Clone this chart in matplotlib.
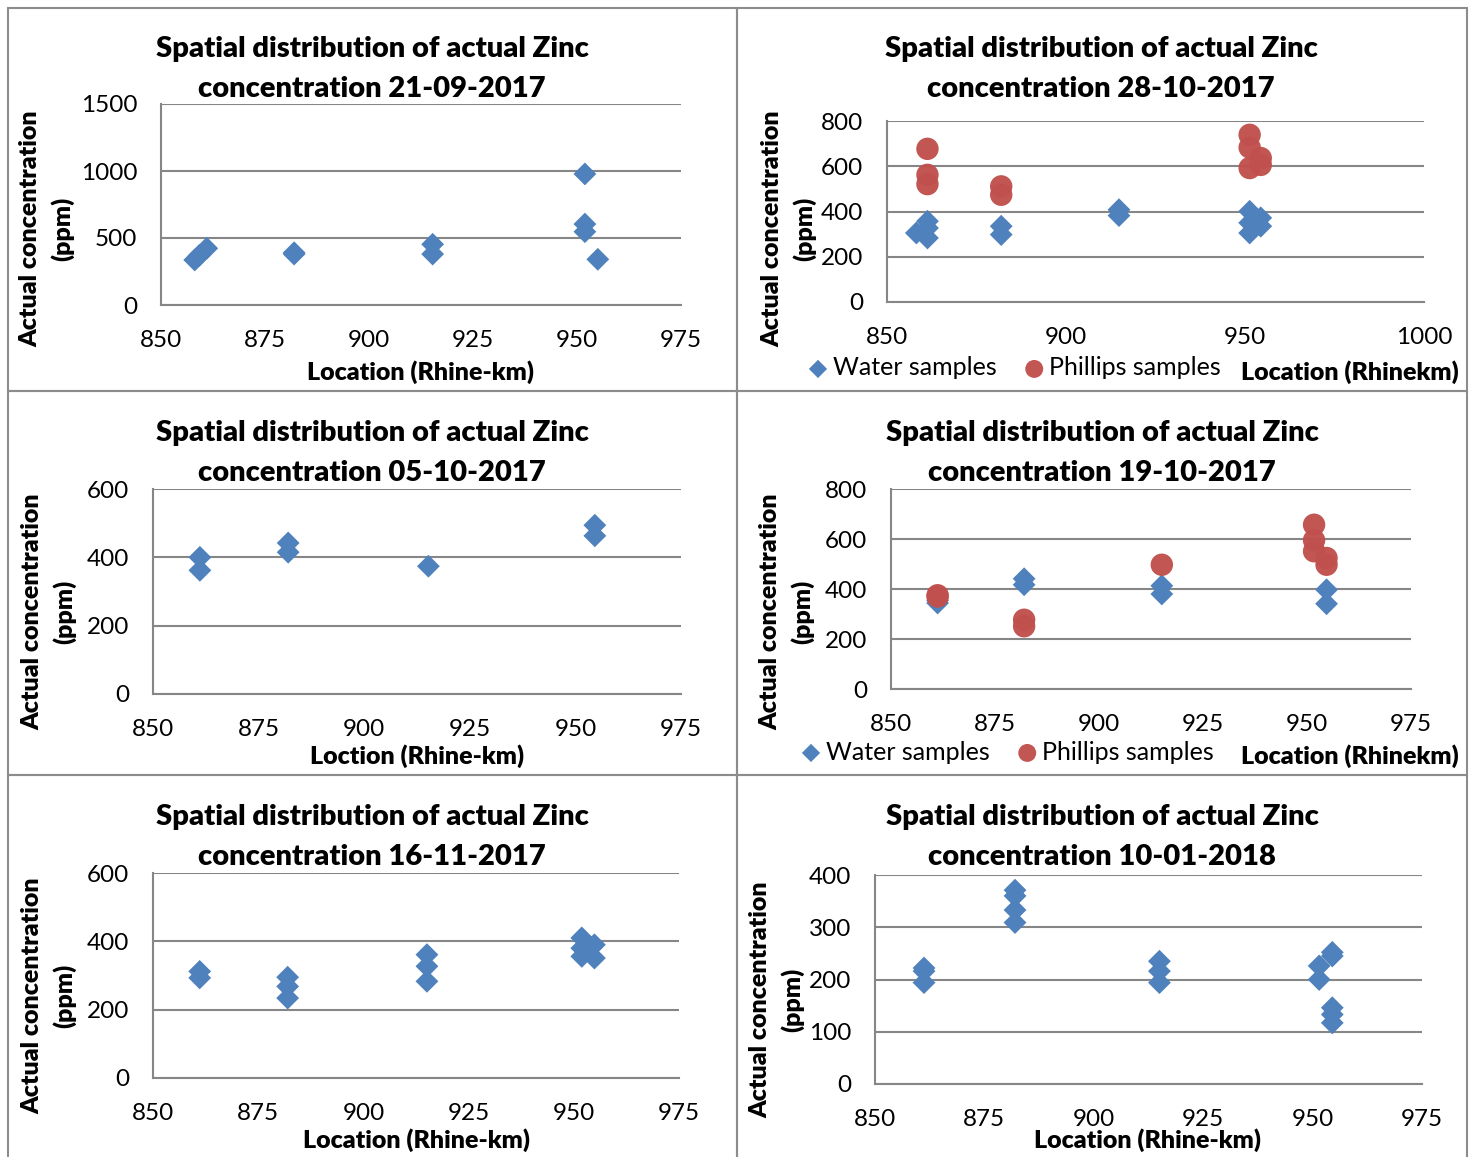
import matplotlib
matplotlib.use("Agg")
import matplotlib.pyplot as plt
from matplotlib.patches import Rectangle

plt.rcParams['font.family'] = ['Lato', 'DejaVu Sans']

W, H = 1470, 1157
BLUE = '#4F81BD'
RED = '#C0504D'
GRID = '#868686'

# --- data (Rhine-km, ppm) ---
p1_water_x = [858.1, 859.2, 861.0, 882.0, 882.0, 915.3, 915.3, 951.9, 951.9, 951.9, 955.0]
p1_water_y = [336, 370, 423, 390, 380, 453, 380, 978, 604, 547, 341]

p2_water_x = [858.2, 861.3, 861.3, 861.3, 881.9, 881.9, 914.8, 914.8, 951.3, 951.3, 951.3, 954.4, 954.4]
p2_water_y = [305, 357, 327, 283, 335, 298, 408, 382, 401, 350, 305, 372, 335]
p2_phil_x = [861.3, 861.3, 861.3, 881.9, 881.9, 951.3, 951.3, 951.3, 954.4, 954.4]
p2_phil_y = [677, 562, 521, 511, 474, 739, 683, 592, 636, 606]

p3_water_x = [861.1, 861.1, 882.0, 882.0, 915.2, 954.6, 954.6]
p3_water_y = [400, 362, 442, 415, 374, 494, 463]

p4_water_x = [861.2, 861.2, 882.0, 882.0, 915.1, 915.1, 954.7, 954.7]
p4_water_y = [344, 355, 441, 417, 413, 380, 397, 341]
p4_phil_x = [861.2, 861.2, 882.0, 882.0, 915.1, 951.7, 951.7, 951.7, 954.7, 954.7]
p4_phil_y = [375, 370, 277, 251, 497, 657, 595, 551, 524, 497]

p5_water_x = [861.1, 861.1, 882.0, 882.0, 882.0, 915.1, 915.1, 915.1, 951.9, 951.9, 951.9, 954.9, 954.9]
p5_water_y = [312, 293, 295, 268, 234, 361, 327, 283, 410, 380, 356, 390, 351]

p6_water_x = [861.2, 861.2, 861.2, 882.0, 882.0, 882.0, 882.0, 915.0, 915.0, 915.0,
              951.5, 951.5, 954.5, 954.5, 954.5, 954.5, 954.5]
p6_water_y = [222, 216, 194, 371, 360, 333, 309, 235, 216, 194,
              226, 200, 252, 245, 146, 133, 117]

dates = ['21-09-2017', '28-10-2017', '05-10-2017', '19-10-2017', '16-11-2017', '10-01-2018']


def rect(l, t, r, b):
    return [l / W, 1 - b / H, (r - l) / W, (b - t) / H]


def ftext(x, y, s, **kw):
    fig.text(x / W, 1 - y / H, s, **kw)


fig = plt.figure(figsize=(W / 100, H / 100), dpi=100)

# panel frames
for x0, x1 in [(8, 737), (737, 1467)]:
    for y0, y1 in [(8, 391), (391, 775), (775, 1170)]:
        fig.patches.append(Rectangle((x0 / W, 1 - y1 / H), (x1 - x0) / W, (y1 - y0) / H,
                                     transform=fig.transFigure, fill=False,
                                     edgecolor='#8c8c8c', linewidth=1.5))


def make_axes(box, xlim, xticks, ylim, yticks):
    ax = fig.add_axes(rect(*box))
    ax.set_xlim(*xlim)
    ax.set_ylim(*ylim)
    ax.set_xticks(xticks)
    ax.set_yticks(yticks)
    for s in ['top', 'right']:
        ax.spines[s].set_visible(False)
    for s in ['left', 'bottom']:
        ax.spines[s].set_color(GRID)
        ax.spines[s].set_linewidth(1.5)
    ax.grid(axis='y', color=GRID, linewidth=1.5)
    ax.set_axisbelow(True)
    ax.tick_params(length=0, labelsize=17.5, colors='black', pad=17)
    ax.tick_params(axis='x', pad=18)
    return ax


def titles(cx, y1, date):
    ftext(cx, y1, 'Spatial distribution of actual Zinc', ha='center', va='center',
          fontsize=21, fontweight='heavy')
    ftext(cx, y1 + 40, 'concentration ' + date, ha='center', va='center',
          fontsize=21, fontweight='heavy')


def ylab(x, cy):
    ftext(x, cy, 'Actual concentration', rotation=90, ha='center', va='center',
          fontsize=18, fontweight='heavy')
    ftext(x + 32, cy, '(ppm)', rotation=90, ha='center', va='center',
          fontsize=18, fontweight='heavy')


def xlab(cx, y, s):
    ftext(cx, y, s, ha='center', va='center', fontsize=18, fontweight='heavy')


def water(ax, x, y):
    return ax.scatter(x, y, marker='D', s=135, color=BLUE, edgecolors='none', zorder=3,
                      label='Water samples')


def phil(ax, x, y):
    return ax.scatter(x, y, marker='o', s=260, color=RED, edgecolors='none', zorder=3,
                      alpha=0.97, label='Phillips samples')


def legend(ax, x, y):
    ax.legend(loc='center left', bbox_to_anchor=(x / W, 1 - y / H),
              bbox_transform=fig.transFigure, ncol=2, frameon=False,
              fontsize=18, handlelength=0.8, handletextpad=0.2, columnspacing=1.1,
              markerscale=0.8, borderpad=0, borderaxespad=0)


# panel 1
ax = make_axes((161, 104, 681, 305), (850, 975), range(850, 976, 25), (0, 1500), range(0, 1501, 500))
water(ax, p1_water_x, p1_water_y)
titles(372, 49, dates[0])
ylab(30, 229)
xlab(421, 372, 'Location (Rhine-km)')

# panel 2
ax = make_axes((887, 121, 1424, 302), (850, 1000), range(850, 1001, 50), (0, 800), range(0, 801, 200))
water(ax, p2_water_x, p2_water_y)
phil(ax, p2_phil_x, p2_phil_y)
titles(1101, 49, dates[1])
ylab(772, 229)
xlab(1350, 372, 'Location (Rhinekm)')
legend(ax, 808, 368)

# panel 3
ax = make_axes((153, 489, 681, 694), (850, 975), range(850, 976, 25), (0, 600), range(0, 601, 200))
water(ax, p3_water_x, p3_water_y)
titles(372, 433, dates[2])
ylab(32, 612)
xlab(417, 756, 'Loction (Rhine-km)')

# panel 4
ax = make_axes((891, 489, 1411, 689), (850, 975), range(850, 976, 25), (0, 800), range(0, 801, 200))
water(ax, p4_water_x, p4_water_y)
phil(ax, p4_phil_x, p4_phil_y)
titles(1102, 433, dates[3])
ylab(770, 612)
xlab(1350, 756, 'Location (Rhinekm)')
legend(ax, 801, 752)

# panel 5
ax = make_axes((153, 873, 679, 1078), (850, 975), range(850, 976, 25), (0, 600), range(0, 601, 200))
water(ax, p5_water_x, p5_water_y)
titles(372, 817, dates[4])
ylab(32, 996)
xlab(416, 1140, 'Location (Rhine-km)')

# panel 6
ax = make_axes((875, 875, 1422, 1084), (850, 975), range(850, 976, 25), (0, 400), range(0, 401, 100))
water(ax, p6_water_x, p6_water_y)
titles(1102, 817, dates[5])
ylab(760, 1000)
xlab(1148, 1140, 'Location (Rhine-km)')

fig.savefig('out.png', dpi=100, facecolor='white')
